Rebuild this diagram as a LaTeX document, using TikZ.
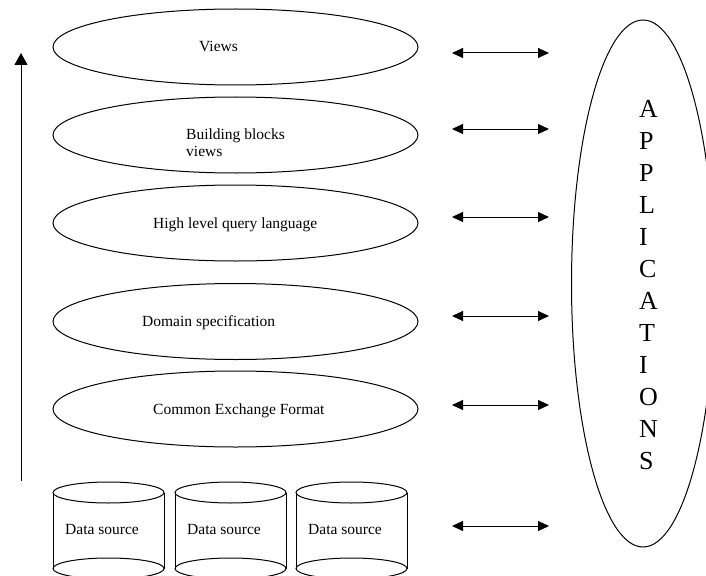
\documentclass[tikz,border=0pt]{standalone}
\usepackage{fontspec}
\setmainfont{Liberation Serif}
\usetikzlibrary{shapes.geometric,arrows.meta}

\tikzset{
  layer/.style={draw, ellipse, line width=1pt, inner sep=0pt,
                minimum width=365pt, minimum height=76pt},
  apps/.style={draw, ellipse, line width=1pt, inner sep=0pt,
               minimum width=143pt, minimum height=527pt},
  lbl/.style={inner sep=0pt, anchor=base west,
              font=\fontsize{15.5}{17}\selectfont},
  link/.style={line width=1pt, {Triangle[length=11pt,width=10pt]}-{Triangle[length=11pt,width=10pt]}},
  rise/.style={line width=1pt, -{Triangle[length=12pt,width=13pt]}},
  can/.style={line width=1pt}
}

\begin{document}
\begin{tikzpicture}[x=1pt,y=-1pt]
  \useasboundingbox (0,0) rectangle (706,575);

  % layered stack
  \node[layer] (views)  at (235.5,47)    {};
  \node[layer] (blocks) at (235.5,135)   {};
  \node[layer] (query)  at (235.5,223)   {};
  \node[layer] (domain) at (235.5,321.5) {};
  \node[layer] (cef)    at (235.5,409)   {};

  \node[lbl] (tviews) at (199,52) {Views};
  \node[inner sep=0pt, anchor=north west, align=left,
        font=\fontsize{15.5}{17}\selectfont] (tblocks) at (186,128.4)
        {Building blocks\\views};
  \node[lbl] (tquery)  at (153,228) {High level query language};
  \node[lbl] (tdomain) at (142,326) {Domain specification};
  \node[lbl] (tcef)    at (153,414) {Common Exchange Format};

  % data sources drawn as cylinders
  \foreach \L/\n in {53/1,175/2,296/3}{
    \draw[can] (\L+55.5,492.5) ellipse [x radius=55.5, y radius=10.5];
    \draw[can] (\L+55.5,568.5) ellipse [x radius=55.5, y radius=10.5];
    \draw[can] (\L,492.5) -- (\L,568.5);
    \draw[can] (\L+111,492.5) -- (\L+111,568.5);
    \node[lbl] (ds\n) at (\L+12,534) {Data source};
  }

  % applications
  \node[apps] (app) at (643,283.5) {};
  \node[inner sep=0pt, anchor=west, align=left,
        font=\fontsize{26}{32}\selectfont] (tapp) at (639,284.6)
        {A\\P\\P\\L\\I\\C\\A\\T\\I\\O\\N\\S};

  % exchange arrows
  \foreach \y/\n in {53/1,129/2,217/3,316/4,405/5,526/6}{
    \coordinate (l\n) at (452,\y);
    \coordinate (r\n) at (549,\y);
    \draw[link] (l\n) -- (r\n);
  }

  % upward arrow
  \coordinate (up0) at (21,481);
  \coordinate (up1) at (21,53);
  \draw[rise] (up0) -- (up1);
\end{tikzpicture}
\end{document}
